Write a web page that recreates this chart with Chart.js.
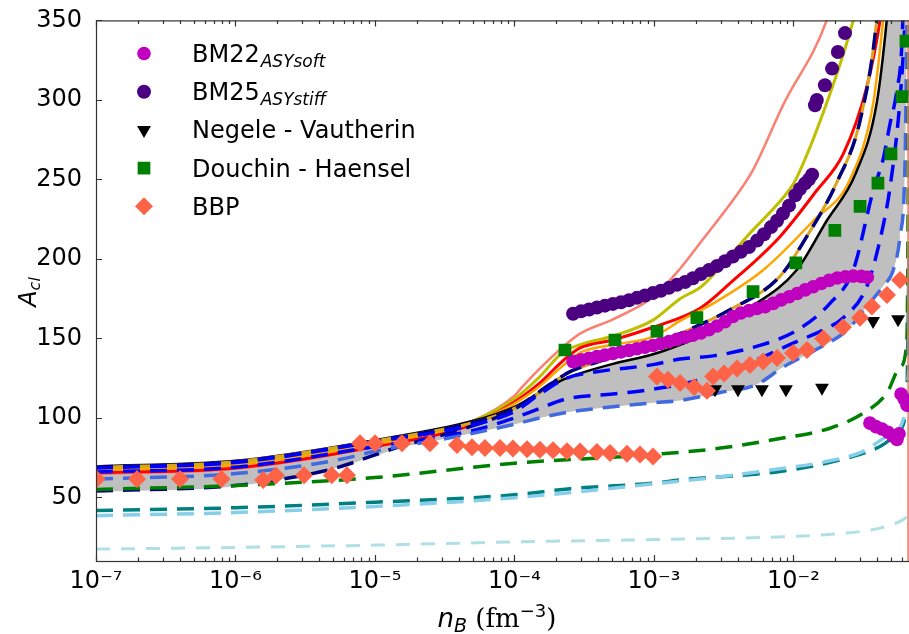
<!DOCTYPE html>
<html>
<head>
<meta charset="utf-8">
<title>A_cl vs n_B</title>
<script src="https://cdn.jsdelivr.net/npm/chart.js@4.4.1/dist/chart.umd.min.js"></script>
<style>
  html, body { margin: 0; padding: 0; background: #ffffff; }
  canvas { display: block; }
</style>
</head>
<body>
<canvas id="aclChart" width="909" height="634"></canvas>
<script>
// axes
var xDecades = [1e-7, 1e-6, 1e-5, 1e-4, 1e-3, 1e-2];
var yTickVals = [50, 100, 150, 200, 250, 300, 350];
var xMin = 1e-7, xMax = 0.0673, yMin = 10, yMax = 350;

// legend
var legendNames = ['BM22', 'BM25', 'Negele - Vautherin', 'Douchin - Haensel', 'BBP'];
var legendSubs = ['ASYsoft', 'ASYstiff', '', '', ''];

// axis titles
var yTitleMain = 'A', yTitleSub = 'cl';
var xTitleMain = 'n', xTitleSub = 'B', xTitleUnit = '(fm', xTitleExp = '\u22123', xTitleEnd = ')';

// scatter series
var bm22X = [2.63e-4, 3.0e-4, 3.42e-4, 3.9e-4, 4.45e-4, 5.08e-4, 5.8e-4, 6.62e-4, 7.55e-4, 8.61e-4,
  9.84e-4, 1.12e-3, 1.28e-3, 1.46e-3, 1.67e-3, 1.90e-3, 2.17e-3, 2.48e-3, 2.83e-3, 3.23e-3,
  3.68e-3, 4.2e-3, 4.8e-3, 5.48e-3, 6.26e-3, 7.15e-3, 8.16e-3, 9.31e-3, 1.063e-2, 1.213e-2,
  1.384e-2, 1.58e-2, 1.80e-2, 2.06e-2, 2.35e-2, 2.68e-2, 3.06e-2, 3.38e-2,
  3.53e-2, 3.90e-2, 4.31e-2, 4.76e-2, 5.17e-2, 5.52e-2, 5.71e-2, 5.90e-2, 6.20e-2, 6.51e-2];
var bm22Y = [135.4, 136.5, 137.5, 138.6, 139.6, 140.5, 141.5, 142.5, 143.5, 144.5,
  145.5, 146.8, 148, 149.4, 150.7, 152, 153.5, 155.5, 157.8, 160.5,
  163.8, 166, 167.5, 168.8, 170, 172, 174.2, 176.2, 178.2, 180.5,
  182.5, 184.5, 186.5, 188, 188.8, 189.2, 189, 188.5,
  96.7, 94.5, 93, 91, 88.5, 86.5, 90, 115, 112, 108];

var bm25X = [2.63e-4, 3.0e-4, 3.42e-4, 3.9e-4, 4.45e-4, 5.08e-4, 5.8e-4, 6.62e-4, 7.55e-4, 8.61e-4,
  9.84e-4, 1.12e-3, 1.28e-3, 1.46e-3, 1.67e-3, 1.90e-3, 2.17e-3, 2.48e-3, 2.83e-3, 3.23e-3,
  3.68e-3, 4.2e-3, 4.8e-3, 5.48e-3, 6.15e-3, 6.9e-3, 7.62e-3, 8.41e-3, 9.29e-3, 1.03e-2,
  1.11e-2, 1.21e-2, 1.29e-2, 1.36e-2,
  1.426e-2, 1.47e-2, 1.68e-2, 1.89e-2, 2.08e-2, 2.34e-2];
var bm25Y = [165.5, 167, 168.2, 169.4, 170.6, 171.7, 172.7, 174, 175.5, 177,
  178.6, 180, 181.8, 183.7, 185.5, 187.8, 190.5, 193, 195.5, 198.5,
  201.5, 204.5, 207.5, 211.5, 215.5, 220, 224, 228.6, 233.5, 240,
  244, 247.5, 250, 253,
  296.6, 300, 309.2, 319.7, 330.1, 342];

var nvX = [2.74e-3, 4.0e-3, 5.94e-3, 8.83e-3, 1.60e-2, 3.72e-2, 5.62e-2];
var nvY = [118, 118, 118, 118, 119, 161, 162];

var dhX = [2.30e-4, 5.25e-4, 1.05e-3, 2.03e-3, 5.13e-3, 1.04e-2, 1.98e-2, 3.0e-2, 4.03e-2, 5.0e-2, 5.99e-2, 6.4e-2];
var dhY = [142.7, 149, 154.5, 163, 179.4, 197.5, 218, 233, 247.6, 266, 302, 337];

var bbpX = [1.01e-7, 1.97e-7, 4.0e-7, 7.94e-7, 1.58e-6, 1.95e-6, 3.1e-6, 4.9e-6, 6.3e-6,
  7.81e-6, 1.0e-5, 1.56e-5, 2.48e-5, 3.87e-5, 4.96e-5, 6.14e-5, 7.87e-5, 9.75e-5, 1.23e-4,
  1.52e-4, 1.89e-4, 2.38e-4, 2.95e-4, 3.9e-4, 4.84e-4, 6.4e-4, 7.94e-4, 9.84e-4,
  1.05e-3, 1.26e-3, 1.54e-3, 1.94e-3, 2.40e-3, 2.65e-3, 3.18e-3, 3.94e-3, 4.88e-3, 6.05e-3,
  7.62e-3, 9.92e-3, 1.25e-2, 1.63e-2, 2.26e-2, 3.0e-2, 3.65e-2, 4.68e-2, 5.8e-2];
var bbpY = [61.5, 61.5, 61.5, 61.5, 61, 63.8, 64, 64, 64,
  84, 84, 84, 84, 83, 81.5, 81, 81, 80.7, 80.3,
  80, 79.6, 79, 78.8, 78.5, 78, 77.5, 77, 75.8,
  126, 124, 122, 119.5, 117, 126, 128, 131, 133.3, 135.4,
  137.6, 140.8, 142.7, 150, 157, 163, 170, 177.3, 186.7];

// curves
var salmonX = [1e-7, 1e-6, 1e-5, 5e-5, 1e-4, 1.15e-4, 1.6e-4, 2.18e-4, 2.95e-4, 5.08e-4, 9.84e-4, 1.54e-3, 2.14e-3, 4.13e-3, 5.13e-3, 8.45e-3, 1.73e-2, 2.15e-2];
var salmonY = [64.5, 68, 82, 98, 114, 120, 133, 144, 153, 162, 176, 194, 210, 243, 256, 297, 350, 380];

var yellowX = [1e-7, 1e-6, 1e-5, 5e-5, 1e-4, 1.52e-4, 2.2e-4, 2.95e-4, 5.08e-4, 9.84e-4, 1.54e-3, 2.14e-3, 2.66e-3, 4.62e-3, 9.44e-3, 1.054e-2, 1.73e-2, 2.68e-2, 3.2e-2];
var yellowY = [67.5, 71, 84, 98, 112, 126, 141, 146, 151.5, 161.5, 175, 182, 190, 214, 244, 251, 298, 350, 380];

var redX = [1e-7, 1e-6, 1e-5, 5e-5, 1e-4, 1.52e-4, 2.23e-4, 2.95e-4, 5.08e-4, 9.84e-4, 2.14e-3, 3.5e-3, 8.0e-3, 1.466e-2, 2.275e-2, 3.35e-2, 4.17e-2, 4.6e-2];
var redY = [65.5, 68.5, 82, 96, 110, 122, 136, 144, 149, 157, 169, 184.6, 214, 243, 266, 308, 350, 380];

var orangeX = [1e-7, 1e-6, 1e-5, 5e-5, 1e-4, 1.52e-4, 2.23e-4, 2.95e-4, 5.08e-4, 9.84e-4, 1.54e-3, 2.66e-3, 6.07e-3, 1.386e-2, 2.54e-2, 3.73e-2, 4.4e-2, 4.8e-2];
var orangeY = [67, 70.5, 83.5, 97, 109, 120, 133, 141, 146, 151, 161, 172, 193, 224, 250, 298, 350, 380];

var navyX = [1e-7, 1e-6, 1e-5, 5e-5, 1e-4, 1.52e-4, 2.37e-4, 3.88e-4, 5.08e-4, 9.84e-4, 1.54e-3, 3.5e-3, 8.0e-3, 1.243e-2, 2.04e-2, 3.0e-2, 3.95e-2, 4.2e-2];
var navyY = [69, 72.5, 85.5, 97, 106, 116, 128, 135, 138, 146, 153, 168, 189, 214, 248, 287, 350, 380];

var navyLowX = [1e-7, 1e-6, 2.7e-6, 5e-6, 1.51e-5, 4.07e-5, 9.75e-5, 1.71e-4, 2.37e-4];
var navyLowY = [54, 57.5, 63, 68, 82, 92.5, 105, 120, 128];

var blackX = [1e-7, 1e-6, 1e-5, 5e-5, 1e-4, 1.52e-4, 2.23e-4, 2.95e-4, 5.08e-4, 9.84e-4, 1.54e-3, 2.66e-3, 4.62e-3, 1.054e-2, 1.73e-2, 2.8e-2, 3.95e-2, 4.66e-2, 5.2e-2, 6.73e-2];
var blackY = [69.5, 73, 86, 98, 107, 116, 124, 128, 134, 140, 146, 155, 168, 193, 224, 254, 298, 350, 400, 400];

var blueUpX = [1e-7, 1e-6, 1e-5, 5e-5, 1e-4, 1.52e-4, 2.37e-4, 3.88e-4, 9.84e-4, 1.54e-3, 2.66e-3, 5.45e-3, 1.054e-2, 1.827e-2, 2.68e-2, 3.73e-2, 4.4e-2, 4.92e-2, 5.49e-2, 6.0e-2, 6.3e-2];
var blueUpY = [68.5, 72, 85, 95.5, 104, 115, 125, 129, 133.5, 137, 139, 145, 155, 172, 193, 243, 263, 285, 305, 337, 400];

var blueLowX = [1e-7, 1e-6, 1e-5, 5e-5, 1e-4, 1.52e-4, 2.37e-4, 5.08e-4, 9.84e-4, 2.14e-3, 4.62e-3, 1.054e-2, 1.6e-2, 2.275e-2, 3.35e-2, 4.17e-2, 4.92e-2, 5.8e-2, 6.3e-2, 6.6e-2];
var blueLowY = [66, 69, 82, 92, 100, 106, 112, 115, 118, 124, 134, 148, 155, 163, 182.5, 212, 245, 300, 350, 400];

var cornX = [1e-7, 1e-6, 5e-6, 1e-5, 1.51e-5, 3.45e-5, 1e-4, 1.52e-4, 2.37e-4, 5.08e-4, 9.84e-4, 1.54e-3, 3.0e-3, 5.45e-3, 8.45e-3, 1.386e-2, 2.405e-2, 3.35e-2, 4.4e-2, 5.19e-2, 5.8e-2, 6.3e-2, 6.6e-2];
var cornY = [61.5, 65, 73, 79, 82, 87.5, 96, 100, 103.5, 107, 109.5, 111, 116, 121, 132, 142, 155, 170, 183, 193, 214, 260, 400];

var bandLowX = [1e-7, 1e-6, 5e-6, 1e-5, 1.51e-5, 3.45e-5, 1e-4, 1.52e-4, 2.37e-4, 5.08e-4, 9.84e-4, 1.54e-3, 3.0e-3, 5.45e-3, 8.45e-3, 1.386e-2, 2.405e-2, 3.35e-2, 4.4e-2, 5.19e-2, 5.8e-2, 6.3e-2, 6.6e-2];
var bandLowY = [53.5, 57, 68, 76, 81, 87.5, 96, 100, 103.5, 107, 109.5, 111, 116, 121, 132, 142, 155, 170, 183, 193, 214, 260, 400];

var greenX = [1e-7, 1e-6, 1e-5, 1e-4, 1e-3, 3.0e-3, 8.0e-3, 1.827e-2, 3.17e-2, 4.66e-2, 5.8e-2, 6.48e-2, 6.6e-2, 6.73e-2];
var greenY = [55, 57.5, 62.5, 71.5, 77, 81, 87, 93.5, 103, 115.5, 132, 147, 200, 400];

var tealX = [1e-7, 1e-6, 1e-5, 1e-4, 2.5e-4, 1e-3, 1.54e-3, 8.0e-3, 2.405e-2, 4.17e-2, 5.8e-2, 6.48e-2, 6.73e-2];
var tealY = [41.8, 43.5, 47, 51.6, 55.5, 59, 61, 66.3, 74.7, 82, 92.5, 113, 200];

var skyX = [1e-7, 1e-6, 1e-5, 1e-4, 1e-3, 3.0e-3, 8.0e-3, 1.827e-2, 3.17e-2, 4.66e-2, 6.12e-2, 6.73e-2];
var skyY = [38.5, 40.5, 44.3, 49.8, 58.5, 63, 68, 73, 79, 88.3, 98.8, 130];

var paleX = [1e-7, 1e-6, 1e-5, 1e-4, 1e-3, 1e-2, 2.405e-2, 4.17e-2, 6.12e-2, 6.73e-2];
var paleY = [17.5, 18.5, 20, 22, 23.5, 25.5, 27.6, 30.7, 36, 39];

var edgeX = [0.0662, 0.0662];
var edgeY = [10, 350];

function pts(xs, ys) {
  var out = [];
  for (var i = 0; i < xs.length; i++) out.push({ x: xs[i], y: ys[i] });
  return out;
}

function curve(label, xs, ys, color, width, dash) {
  return {
    label: label, data: pts(xs, ys), borderColor: color, borderWidth: width,
    borderDash: dash || [], pointRadius: 0, pointHoverRadius: 0, fill: false
  };
}

function markers(label, xs, ys, color, style, radius, rotation) {
  return {
    label: label, data: pts(xs, ys), showLine: false, pointStyle: style,
    pointRadius: radius, pointHoverRadius: radius, pointRotation: rotation || 0,
    pointBackgroundColor: color, pointBorderWidth: 0, borderColor: color, backgroundColor: color
  };
}

var dash = [17, 10];

// first dataset is drawn on top
var datasets = [
  markers('BBP', bbpX, bbpY, '#ff6347', 'rectRot', 9),
  markers('Douchin - Haensel', dhX, dhY, '#008000', 'rect', 9),
  markers('Negele - Vautherin', nvX, nvY, '#000000', 'triangle', 8, 180),
  markers('BM25', bm25X, bm25Y, '#4b0082', 'circle', 7),
  markers('BM22', bm22X, bm22Y, '#bf00bf', 'circle', 6.8),
  curve('edge', edgeX, edgeY, '#f4806c', 1.5),
  curve('pale', paleX, paleY, '#b0e0e6', 3, [14, 11]),
  curve('sky', skyX, skyY, '#87ceeb', 3.5, dash),
  curve('teal', tealX, tealY, '#008080', 3.5, dash),
  curve('green', greenX, greenY, '#008000', 3.5, dash),
  curve('cornflower', cornX, cornY, '#4169e1', 3.5, dash),
  curve('blue low', blueLowX, blueLowY, '#0000ff', 3.5, dash),
  curve('blue up', blueUpX, blueUpY, '#0000ff', 3.5, dash),
  curve('navy low', navyLowX, navyLowY, '#000080', 3.5, dash),
  curve('navy', navyX, navyY, '#000080', 3.5, dash),
  curve('goldenrod', navyX, navyY, '#daa520', 3),
  curve('black', blackX, blackY, '#000000', 2.5),
  curve('orange', orangeX, orangeY, '#ffa500', 2.5),
  curve('red', redX, redY, '#ff0000', 3),
  curve('yellow', yellowX, yellowY, '#bfbf00', 3),
  curve('salmon', salmonX, salmonY, '#fa8072', 2.5),
  { label: 'band low', data: pts(bandLowX, bandLowY), borderColor: 'rgba(0,0,0,0)', borderWidth: 1, pointRadius: 0, fill: false },
  { label: 'band', data: pts(blackX, blackY), borderColor: 'rgba(0,0,0,0)', borderWidth: 1, pointRadius: 0, fill: '-1', backgroundColor: '#bfbfbf' }
];

var supMap = { '0': '\u2070', '1': '\u00b9', '2': '\u00b2', '3': '\u00b3', '4': '\u2074', '5': '\u2075', '6': '\u2076', '7': '\u2077', '8': '\u2078', '9': '\u2079', '-': '\u207b' };
function decadeLabel(v) {
  var e = String(Math.round(Math.log10(v)));
  var s = '';
  for (var i = 0; i < e.length; i++) s += supMap[e[i]];
  return '10' + s;
}

var decor = {
  id: 'decor',
  afterDraw: function (chart) {
    var ctx = chart.ctx, a = chart.chartArea, xs = chart.scales.x, ys = chart.scales.y;
    ctx.save();
    ctx.strokeStyle = '#333333';
    ctx.lineWidth = 1.2;
    ctx.beginPath();
    xDecades.forEach(function (d) {
      for (var m = 1; m <= 9; m++) {
        var v = d * m;
        if (v > xMax) break;
        var px = Math.round(xs.getPixelForValue(v)) + 0.5;
        var len = m === 1 ? 6 : 3.5;
        ctx.moveTo(px, a.bottom); ctx.lineTo(px, a.bottom - len);
        ctx.moveTo(px, a.top); ctx.lineTo(px, a.top + len);
      }
    });
    yTickVals.forEach(function (v) {
      var py = Math.round(ys.getPixelForValue(v)) + 0.5;
      ctx.moveTo(a.left, py); ctx.lineTo(a.left + 6, py);
    });
    ctx.stroke();
    ctx.strokeRect(a.left + 0.5, a.top + 0.5, a.right - a.left, a.bottom - a.top);

    // legend
    ctx.fillStyle = '#000';
    ctx.textAlign = 'left';
    ctx.textBaseline = 'alphabetic';
    legendNames.forEach(function (name, i) {
      var rowY = 53.5 + i * 38.2;
      var ds = chart.data.datasets.filter(function (d) { return d.label === name; })[0];
      ctx.fillStyle = ds.pointBackgroundColor;
      Chart.helpers.drawPoint(ctx, { pointStyle: ds.pointStyle, rotation: ds.pointRotation, radius: ds.pointRadius, borderWidth: 0 }, 144, rowY);
      ctx.fillStyle = '#000';
      ctx.font = '24px "DejaVu Sans"';
      ctx.fillText(name, 192, rowY + 8.5);
      if (legendSubs[i]) {
        var w = ctx.measureText(name).width;
        ctx.font = 'italic 17px "DejaVu Sans"';
        ctx.fillText(legendSubs[i], 192 + w + 1, rowY + 13);
      }
    });

    // y title
    ctx.save();
    ctx.translate(36, 292);
    ctx.rotate(-Math.PI / 2);
    ctx.font = 'italic 24px "DejaVu Sans"';
    var wA = ctx.measureText(yTitleMain).width;
    ctx.font = 'italic 16px "DejaVu Sans"';
    var wS = ctx.measureText(yTitleSub).width;
    var x0 = -(wA + wS) / 2;
    ctx.font = 'italic 24px "DejaVu Sans"';
    ctx.fillText(yTitleMain, x0, 0);
    ctx.font = 'italic 16px "DejaVu Sans"';
    ctx.fillText(yTitleSub, x0 + wA, 4);
    ctx.restore();

    // x title
    var parts = [
      { t: xTitleMain, f: 'italic 26px "DejaVu Sans"', dy: 0 },
      { t: xTitleSub, f: 'italic 19px "DejaVu Sans"', dy: 5 },
      { t: ' ' + xTitleUnit, f: '26px "DejaVu Serif"', dy: 0 },
      { t: xTitleExp, f: '18px "DejaVu Sans"', dy: -10 },
      { t: xTitleEnd, f: '26px "DejaVu Serif"', dy: 0 }
    ];
    var total = 0;
    parts.forEach(function (p) { ctx.font = p.f; p.w = ctx.measureText(p.t).width; total += p.w; });
    var cx = 497 - total / 2;
    parts.forEach(function (p) { ctx.font = p.f; ctx.fillText(p.t, cx, 627 + p.dy); cx += p.w; });
    ctx.restore();
  }
};

new Chart(document.getElementById('aclChart'), {
  type: 'line',
  data: { datasets: datasets },
  options: {
    responsive: false,
    animation: false,
    events: [],
    layout: { autoPadding: false, padding: { top: 20, right: 0, bottom: 0, left: 0 } },
    elements: { line: { cubicInterpolationMode: 'monotone' } },
    plugins: { legend: { display: false }, tooltip: { enabled: false } },
    scales: {
      x: {
        type: 'logarithmic', min: xMin, max: xMax,
        grid: { display: false }, border: { display: false },
        afterBuildTicks: function (s) { s.ticks = xDecades.map(function (v) { return { value: v, major: true }; }); },
        afterFit: function (s) { s.height = 73; s.paddingLeft = 0; s.paddingRight = 0; },
        ticks: {
          autoSkip: false, maxRotation: 0, padding: -2, color: '#000',
          font: { family: 'DejaVu Sans', size: 24 },
          callback: function (v) { return decadeLabel(v); }
        }
      },
      y: {
        type: 'linear', min: yMin, max: yMax,
        grid: { display: false }, border: { display: false },
        afterBuildTicks: function (s) { s.ticks = yTickVals.map(function (v) { return { value: v }; }); },
        afterFit: function (s) { s.width = 96; },
        ticks: { padding: 6, color: '#000', font: { family: 'DejaVu Sans', size: 24 } }
      }
    }
  },
  plugins: [decor]
});
</script>
</body>
</html>
